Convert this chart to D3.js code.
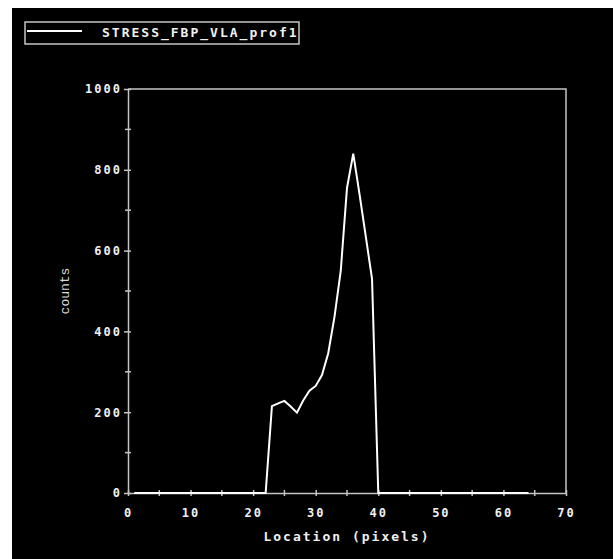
<!DOCTYPE html>
<html><head><meta charset="utf-8">
<script src="https://cdn.jsdelivr.net/npm/d3@7"></script>
<style>
html,body{margin:0;padding:0;background:#fff;}
svg{display:block;}
</style></head>
<body>
<svg id="chart" width="613" height="559"></svg>
<script>
const seriesName = "STRESS_FBP_VLA_prof1";
const xTitle = "Location (pixels)";
const yTitle = "counts";
const locations = [1,2,3,4,5,6,7,8,9,10,11,12,13,14,15,16,17,18,19,20,21,22,23,24,25,26,27,28,29,30,31,32,33,34,35,36,37,38,39,40,41,42,43,44,45,46,47,48,49,50,51,52,53,54,55,56,57,58,59,60,61,62,63,64];
const counts = [0,0,0,0,0,0,0,0,0,0,0,0,0,0,0,0,0,0,0,0,0,0,215,222,228,214,199,229,253,265,292,346,436,550,755,840,740,635,530,0,0,0,0,0,0,0,0,0,0,0,0,0,0,0,0,0,0,0,0,0,0,0,0,0];
const xTicks = [0,10,20,30,40,50,60,70];
const xMinor = [5,15,25,35,45,55,65];
const yTicks = [0,200,400,600,800,1000];
const yMinor = [100,300,500,700,900];

const svg = d3.select("#chart");
svg.append("rect").attr("x",12).attr("y",8).attr("width",613-12).attr("height",559-8).attr("fill","#000");

const x = d3.scaleLinear().domain([0,70]).range([128,566]);
const y = d3.scaleLinear().domain([0,1000]).range([493,89]);
const axisCol = "#c4c4c4";
const font = "'DejaVu Sans Mono', monospace";

// frame
svg.append("path").attr("d", `M${x(0)},${y(1000)}H${x(70)}V${y(0)}`).attr("fill","none").attr("stroke",axisCol).attr("stroke-width",1.5);

// x axis
const xa = svg.append("g").attr("transform",`translate(0,${y(0)})`).call(
  d3.axisBottom(x).tickValues(xTicks).tickSize(0).tickPadding(15).tickFormat(d3.format("d")));
xa.select(".domain").attr("stroke",axisCol).attr("stroke-width",1.5);
xa.selectAll("text").attr("fill","#f0f0f0").style("font-family",font).style("font-weight","bold").style("font-size","12px").attr("letter-spacing","2px");
xa.selectAll(".tick").append("line").attr("y1",-3).attr("y2",3).attr("stroke",axisCol).attr("stroke-width",1.5);
svg.append("g").selectAll("line").data(xMinor).join("line")
  .attr("x1",d=>x(d)).attr("x2",d=>x(d)).attr("y1",y(0)-3).attr("y2",y(0)+3).attr("stroke",axisCol).attr("stroke-width",1.5);

// y axis
const ya = svg.append("g").attr("transform",`translate(${x(0)},0)`).call(
  d3.axisLeft(y).tickValues(yTicks).tickSize(0).tickPadding(6).tickFormat(d3.format("d")));
ya.select(".domain").attr("stroke",axisCol).attr("stroke-width",1.5);
ya.selectAll("text").attr("fill","#f0f0f0").style("font-family",font).style("font-weight","bold").style("font-size","12px").attr("letter-spacing","2px");
ya.selectAll(".tick").append("line").attr("x1",-4).attr("x2",3).attr("stroke",axisCol).attr("stroke-width",1.5);
svg.append("g").selectAll("line").data(yMinor).join("line")
  .attr("y1",d=>y(d)).attr("y2",d=>y(d)).attr("x1",x(0)-3).attr("x2",x(0)+3).attr("stroke",axisCol).attr("stroke-width",1.5);

// data line
const pts = locations.map((l,i)=>[l,counts[i]]);
svg.append("path").datum(pts)
  .attr("d", d3.line().x(d=>x(d[0])).y(d=>y(d[1])))
  .attr("fill","none").attr("stroke","#fff").attr("stroke-width",2);

// titles
svg.append("text").attr("x",(x(0)+x(70))/2).attr("y",541).attr("text-anchor","middle")
  .attr("fill","#f0f0f0").style("font-family",font).style("font-weight","bold").style("font-size","13px").attr("letter-spacing","2px").text(xTitle);
svg.append("text").attr("transform",`translate(69,${(y(0)+y(1000))/2}) rotate(-90)`).attr("text-anchor","middle")
  .attr("fill","#d8d8d8").style("font-family","'Liberation Mono', monospace").style("font-size","13px").text(yTitle);

// legend
svg.append("rect").attr("x",25).attr("y",22).attr("width",274).attr("height",22).attr("fill","none").attr("stroke",axisCol).attr("stroke-width",1.5);
svg.append("line").attr("x1",27).attr("x2",82).attr("y1",31).attr("y2",31).attr("stroke","#fff").attr("stroke-width",2);
svg.append("text").attr("x",102).attr("y",37).attr("fill","#f0f0f0").style("font-family",font).style("font-weight","bold").style("font-size","13px").attr("letter-spacing","2px").text(seriesName);
</script>
</body></html>
